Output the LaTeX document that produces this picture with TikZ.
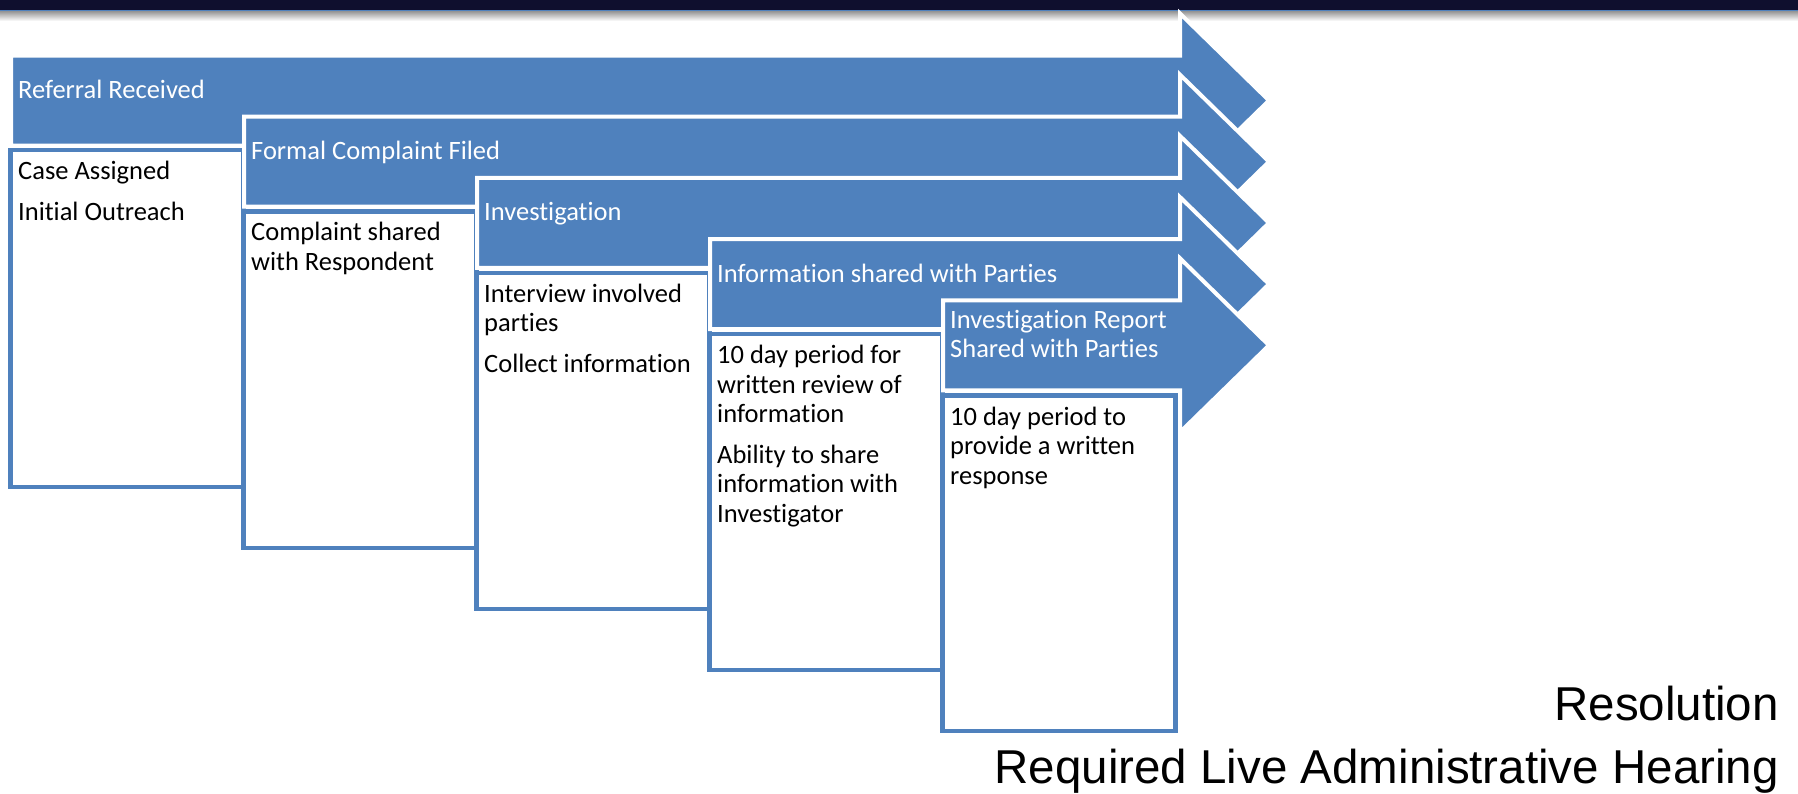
\documentclass[tikz,border=0pt]{standalone}
\usepackage{fontspec}
\setmainfont{Carlito}[Ligatures={NoCommon}]
\newfontfamily\arialfont{Liberation Sans}
\definecolor{accblue}{HTML}{4F81BD}
\definecolor{navyband}{HTML}{0F0F2E}
\begin{document}
\begin{tikzpicture}[x=1pt,y=-1pt,
  arrowshape/.style={fill=accblue, draw=white, line width=4pt, line join=miter},
  boxshape/.style={fill=white, draw=accblue, line width=4.5pt},
  steplabel/.style={anchor=base west, inner sep=0pt, text=white, font=\fontsize{26.5}{29.5}\selectfont},
  boxtext/.style={anchor=base west, inner sep=0pt, text=black, font=\fontsize{26.5}{29.5}\selectfont},
  bigtext/.style={anchor=base east, inner sep=0pt, text=black, font=\arialfont\fontsize{47.5}{57}\selectfont}]
\useasboundingbox (0,0) rectangle (1798,793);
% top band
\fill[navyband] (0,0) rectangle (1798,9.5);
\fill[accblue] (0,9.5) rectangle (1798,11.5);
\shade[top color=black!40, bottom color=white] (0,11.5) rectangle (1798,21);
% steps
\foreach \i in {0,...,4}{
  \pgfmathsetmacro\L{13+233*\i}
  \pgfmathsetmacro\T{57.5+61.2*\i}
  \pgfmathsetmacro\C{\T+43}
  \path[arrowshape] (\L-2,\T-2) -- (1180,\T-2) -- (1180,\C-87) -- (1269,\C)
     -- (1180,\C+87) -- (1180,\T+88) -- (\L-2,\T+88) -- cycle;
  \draw[boxshape] ({10.5+233*\i},{150+61.4*\i}) rectangle ({243.5+233*\i},{487+61*\i});
}
% arrow labels
\node[steplabel] (a1) at (18,98.5) {Referral Received};
\node[steplabel] (a2) at (251,159.7) {Formal Complaint Filed};
\node[steplabel] (a3) at (484,220.9) {Investigation};
\node[steplabel] (a4) at (717,282.1) {Information shared with Parties};
\node[steplabel] (a5) at (950,328.3) {\vtop{\hbox{Investigation Report}\hbox{Shared with Parties}}};
% box texts
\node[boxtext] (b1) at (18,179.5) {\vtop{\hbox{Case Assigned}\vskip11pt\hbox{Initial Outreach}}};
\node[boxtext] (b2) at (251,240.9) {\vtop{\hbox{Complaint shared}\hbox{with Respondent}}};
\node[boxtext] (b3) at (484,302.3) {\vtop{\hbox{Interview involved}\hbox{parties}\vskip11pt\hbox{Collect information}}};
\node[boxtext] (b4) at (717,363.7) {\vtop{\hbox{10 day period for}\hbox{written review of}\hbox{information}\vskip11pt\hbox{Ability to share}\hbox{information with}\hbox{Investigator}}};
\node[boxtext] (b5) at (950,425.1) {\vtop{\hbox{10 day period to}\hbox{provide a written}\hbox{response}}};
% bottom right
\node[bigtext] (res) at (1779,720) {Resolution};
\node[bigtext] (hear) at (1779,783) {Required Live Administrative Hearing};
\end{tikzpicture}
\end{document}
